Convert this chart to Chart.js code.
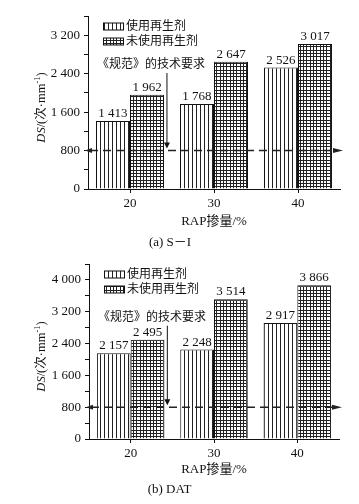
<!DOCTYPE html>
<html>
<head>
<meta charset="utf-8">
<script src="https://cdn.jsdelivr.net/npm/chart.js@4"></script>
<style>
  body { margin: 0; background: #fff; }
  canvas { display: block; }
</style>
</head>
<body>
<canvas id="chart-si" width="359" height="250"></canvas>
<canvas id="chart-dat" width="359" height="254"></canvas>
<script>
// RAP content, %
const rapContents = ['20', '30', '40'];
const seriesNames = ['使用再生剂', '未使用再生剂'];

// (a) S-I, dynamic stability DS in 次/mm
const siWithAgent = [1413, 1768, 2526];
const siWithoutAgent = [1962, 2647, 3017];

// (b) DAT
const datWithAgent = [2157, 2248, 2917];
const datWithoutAgent = [2495, 3514, 3866];

// spec requirement line
const specRequirement = 800;
const specNote = '《规范》的技术要求';

// y axis: labelled every 800, minor ticks every 400
const labelStep = 800;
const minorStep = 400;
const siAxisMax = 3600;
const datAxisMax = 4400;

const serif = '"Liberation Serif", "Noto Sans CJK SC", serif';
const ink = '#111';

function fmt(v) {
    return String(v).replace(/\B(?=(\d{3})+(?!\d))/g, ' ');
}

// hatch fills like the printed figure
function makePattern(kind) {
    const c = document.createElement('canvas');
    const g = c.getContext('2d');
    if (kind === 'stripes') {
        c.width = 4; c.height = 4;
        g.fillStyle = '#fff';
        g.fillRect(0, 0, 4, 4);
        g.fillStyle = '#222';
        g.fillRect(0, 0, 1, 4);
    } else {
        c.width = 10; c.height = 10;
        g.fillStyle = '#fff';
        g.fillRect(0, 0, 10, 10);
        g.fillStyle = '#222';
        [0, 3, 6].forEach(p => {
            g.fillRect(p, 0, 1, 10);
            g.fillRect(0, p, 10, 1);
        });
    }
    return g.createPattern(c, 'repeat');
}

const stripeFill = makePattern('stripes');
const gridFill = makePattern('grid');

function triangle(ctx, pts) {
    ctx.beginPath();
    ctx.moveTo(pts[0][0], pts[0][1]);
    ctx.lineTo(pts[1][0], pts[1][1]);
    ctx.lineTo(pts[2][0], pts[2][1]);
    ctx.closePath();
    ctx.fill();
}

// value labels, spec line, note, legend and the y title
const figureExtras = {
    id: 'figureExtras',
    afterDatasetsDraw(chart, args, opts) {
        const ctx = chart.ctx;
        const area = chart.chartArea;
        const x = chart.scales.x;
        const y = chart.scales.y;
        ctx.save();

        // values over bars
        ctx.fillStyle = ink;
        ctx.font = '13px ' + serif;
        ctx.textAlign = 'center';
        ctx.textBaseline = 'alphabetic';
        chart.data.datasets.forEach((ds, i) => {
            chart.getDatasetMeta(i).data.forEach((bar, j) => {
                ctx.fillText(fmt(ds.data[j]), bar.x, bar.y - 4);
            });
        });

        // dashed requirement line with arrow heads
        const ly = y.getPixelForValue(specRequirement);
        ctx.strokeStyle = '#222';
        ctx.lineWidth = 1.5;
        ctx.setLineDash([8, 5]);
        ctx.beginPath();
        ctx.moveTo(area.left + 2, ly);
        ctx.lineTo(area.right - 6, ly);
        ctx.stroke();
        ctx.setLineDash([]);
        ctx.fillStyle = '#222';
        triangle(ctx, [[area.right + 3, ly], [area.right - 7, ly - 2.5], [area.right - 7, ly + 2.5]]);
        triangle(ctx, [[area.left - 3, ly], [area.left + 4, ly - 2.5], [area.left + 4, ly + 2.5]]);

        // note with arrow down to the line
        const ny = y.getPixelForValue(opts.noteValue);
        ctx.fillStyle = ink;
        ctx.font = '12px ' + serif;
        ctx.textAlign = 'left';
        ctx.textBaseline = 'middle';
        ctx.fillText(specNote, area.left + 9, ny);
        const ax = x.getPixelForValue(opts.noteIndex);
        ctx.strokeStyle = ink;
        ctx.lineWidth = 1;
        ctx.beginPath();
        ctx.moveTo(ax, ny + 8);
        ctx.lineTo(ax, ly - 5);
        ctx.stroke();
        triangle(ctx, [[ax, ly - 2], [ax - 3, ly - 8], [ax + 3, ly - 8]]);

        // legend inside the plot, top left
        ctx.font = '12px ' + serif;
        ctx.textBaseline = 'middle';
        chart.data.datasets.forEach((ds, i) => {
            const ry = area.top + 10.5 + i * 15;
            const bx = area.left + 15;
            ctx.fillStyle = ds.backgroundColor;
            ctx.fillRect(bx, ry - 3.5, 20, 7);
            ctx.strokeStyle = ink;
            ctx.strokeRect(bx + 0.5, ry - 3.5, 20, 7);
            ctx.fillStyle = ink;
            ctx.fillText(ds.label, bx + 23, ry);
        });

        // y title: DS/(次·mm⁻¹) with italic DS
        const parts = [
            { t: 'DS', f: 'italic 12.5px ' + serif, dy: 0 },
            { t: '/(次·mm', f: '12.5px ' + serif, dy: 0 },
            { t: '-1', f: '8.5px ' + serif, dy: -4 },
            { t: ')', f: '12.5px ' + serif, dy: 0 }
        ];
        let total = 0;
        parts.forEach(p => { ctx.font = p.f; p.w = ctx.measureText(p.t).width; total += p.w; });
        ctx.translate(42, (area.top + area.bottom) / 2 + 5);
        ctx.rotate(-Math.PI / 2);
        ctx.textAlign = 'left';
        ctx.textBaseline = 'middle';
        let cx = -total / 2;
        parts.forEach(p => {
            ctx.font = p.f;
            ctx.fillText(p.t, cx, p.dy);
            cx += p.w;
        });
        ctx.restore();
    }
};

function buildChart(id, setup) {
    const tickFont = { family: serif, size: 13 };
    return new Chart(document.getElementById(id), {
        type: 'bar',
        data: {
            labels: rapContents,
            datasets: [
                {
                    label: seriesNames[0],
                    data: setup.withAgent,
                    backgroundColor: stripeFill,
                    borderColor: ink,
                    borderWidth: 1,
                    barPercentage: 1,
                    categoryPercentage: 0.81
                },
                {
                    label: seriesNames[1],
                    data: setup.withoutAgent,
                    backgroundColor: gridFill,
                    borderColor: ink,
                    borderWidth: 1,
                    barPercentage: 1,
                    categoryPercentage: 0.81
                }
            ]
        },
        options: {
            responsive: false,
            animation: false,
            layout: { padding: { top: setup.top, right: setup.right, left: 0, bottom: 0 } },
            plugins: {
                legend: { display: false },
                tooltip: { enabled: false },
                title: {
                    display: true,
                    position: 'bottom',
                    text: setup.caption,
                    color: ink,
                    font: { family: serif, size: 13, weight: 'normal' },
                    padding: { top: setup.capTop, bottom: setup.capBottom }
                },
                figureExtras: { noteValue: setup.noteValue, noteIndex: 0.44 }
            },
            scales: {
                x: {
                    grid: { drawOnChartArea: false, tickLength: 4, color: ink, offset: false },
                    border: { color: ink },
                    ticks: { color: ink, font: tickFont, padding: 3 },
                    title: {
                        display: true,
                        text: 'RAP掺量/%',
                        color: ink,
                        font: tickFont,
                        padding: { top: 0, bottom: 0 }
                    },
                    afterFit: s => { s.height = setup.xHeight; }
                },
                y: {
                    min: 0,
                    max: setup.axisMax,
                    grid: { drawOnChartArea: false, tickLength: 4, color: ink },
                    border: { color: ink },
                    ticks: {
                        stepSize: minorStep,
                        autoSkip: false,
                        color: ink,
                        font: tickFont,
                        padding: 4,
                        callback: v => (v % labelStep === 0 ? fmt(v) : '')
                    },
                    afterFit: s => { s.width = setup.yWidth; }
                }
            }
        },
        plugins: [figureExtras]
    });
}

buildChart('chart-si', {
    withAgent: siWithAgent,
    withoutAgent: siWithoutAgent,
    axisMax: siAxisMax,
    caption: '(a) S－I',
    noteValue: 2580,
    top: 16, right: 19, yWidth: 88,
    xHeight: 40.8, capTop: 4.6, capBottom: 0
});

buildChart('chart-dat', {
    withAgent: datWithAgent,
    withoutAgent: datWithoutAgent,
    axisMax: datAxisMax,
    caption: '(b) DAT',
    noteValue: 3050,
    top: 14, right: 20, yWidth: 89,
    xHeight: 38.8, capTop: 4.4, capBottom: 6.2
});
</script>
</body>
</html>
